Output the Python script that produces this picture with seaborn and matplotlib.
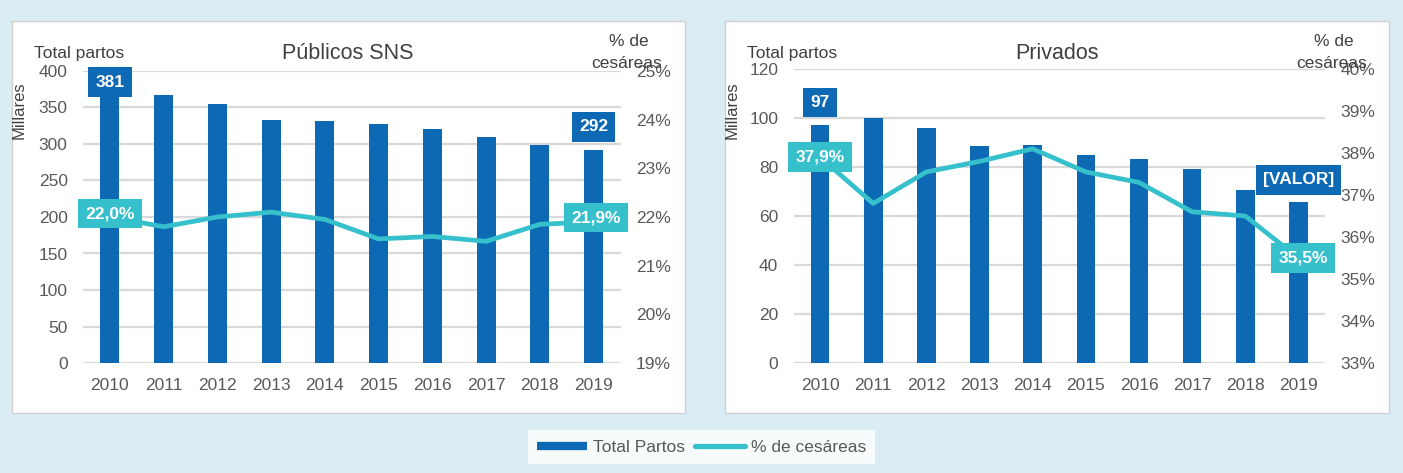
import numpy as np
import pandas as pd
import seaborn as sns
import matplotlib.pyplot as plt
from matplotlib.patches import Rectangle
from matplotlib.lines import Line2D
from matplotlib.ticker import PercentFormatter

plt.rcParams['font.family'] = ['Liberation Sans', 'DejaVu Sans']

# dados
anos = ['2010', '2011', '2012', '2013', '2014', '2015', '2016', '2017', '2018', '2019']
sns_partos = [381, 367, 355, 333, 332, 328, 321, 309, 299, 292]
sns_cesareas = [22.0, 21.8, 22.0, 22.1, 21.95, 21.55, 21.6, 21.5, 21.85, 21.9]
priv_partos = [97.3, 99.9, 95.9, 88.4, 89.1, 85.1, 83.4, 79.3, 70.6, 65.7]
priv_cesareas = [37.9, 36.8, 37.55, 37.8, 38.1, 37.55, 37.3, 36.6, 36.5, 35.5]

AZUL = '#0E69B4'
TURQ = '#35C0CC'
FUNDO = '#DAEDF5'
CINZA = '#595959'
GRELHA = '#D9D9D9'

W, H = 1403, 473
fig = plt.figure(figsize=(W / 100, H / 100), dpi=100)
fig.patch.set_facecolor(FUNDO)


def px(x, y):
    return x / W, 1 - y / H


# paineis brancos
for x0, x1 in [(12, 685), (725, 1389)]:
    fig.patches.append(Rectangle(px(x0, 413), (x1 - x0) / W, (413 - 21) / H,
                                 transform=fig.transFigure, facecolor='white',
                                 edgecolor='#D0D0D0', lw=1, zorder=-10))


def painel(rect, partos, cesareas, ymax, ylim2, titulo, bar_lbls, line_lbls, xs):
    df = pd.DataFrame({'ano': anos, 'partos': partos, 'ces': cesareas})
    ax = fig.add_axes(rect)
    ax.set_facecolor('none')
    sns.barplot(data=df, x='ano', y='partos', color=AZUL, saturation=1,
                width=0.35, ax=ax)
    ax.set_ylim(0, ymax)
    ax.set_xlim(-0.5, len(anos) - 0.5)
    ax.yaxis.grid(True, color=GRELHA, lw=1.6)
    ax.set_axisbelow(True)
    for s in ax.spines.values():
        s.set_visible(False)
    ax.tick_params(length=0, labelsize=12.5, labelcolor=CINZA, pad=11)
    ax.set_xlabel('')
    ax.set_ylabel('')

    ax2 = ax.twinx()
    sns.pointplot(data=df, x='ano', y='ces', color=TURQ, markers='',
                  linewidth=3.4, errorbar=None, ax=ax2)
    ax2.set_ylim(*ylim2)
    ax2.set_yticks(range(ylim2[0], ylim2[1] + 1))
    ax2.yaxis.set_major_formatter(PercentFormatter(decimals=0))
    ax2.set_xlim(-0.5, len(anos) - 0.5)
    for s in ax2.spines.values():
        s.set_visible(False)
    ax2.tick_params(length=0, labelsize=12.5, labelcolor=CINZA, pad=11)
    ax2.set_xlabel('')
    ax2.set_ylabel('')

    for i, txt, dy in bar_lbls:
        ax.annotate(txt, xy=(i, partos[i]), xytext=(0, dy), textcoords='offset points',
                    ha='center', va='center', color='white', fontsize=12.5,
                    fontweight='bold',
                    bbox=dict(boxstyle='square,pad=0.42', fc=AZUL, ec='none'))
    for i, dx, dy in line_lbls:
        txt = f'{cesareas[i]:.1f}'.replace('.', ',') + '%'
        ax2.annotate(txt, xy=(i, cesareas[i]), xytext=(dx, dy), textcoords='offset points',
                     ha='center', va='center', color='white', fontsize=12.5,
                     fontweight='bold',
                     bbox=dict(boxstyle='square,pad=0.42', fc=TURQ, ec='none'))

    # textos
    fig.text(*px(xs[0], 53), 'Total partos', ha='center', va='center',
             fontsize=12.5, color='#404040')
    fig.text(*px(xs[1], 53), titulo, ha='center', va='center',
             fontsize=15.5, color='#404040')
    fig.text(*px(xs[2], 42), '% de', ha='center', va='center',
             fontsize=12.5, color='#404040')
    fig.text(*px(xs[2] - 2, 63), 'cesáreas', ha='center', va='center',
             fontsize=12.5, color='#404040')
    fig.text(*px(xs[3], 110), 'Millares', ha='center', va='center',
             rotation=90, fontsize=12, color='#404040')


def rect_px(x0, x1, ytop, ybot):
    return [x0 / W, 1 - ybot / H, (x1 - x0) / W, (ybot - ytop) / H]


painel(rect_px(83, 620.5, 71, 363), sns_partos, sns_cesareas, 400, (19, 25),
       'Públicos SNS',
       [(0, '381', 2), (9, '292', 16.5)],
       [(0, 0, 2.4), (9, 2, 3)],
       (79, 348, 629, 19))

painel(rect_px(793.5, 1325, 69, 363), priv_partos, priv_cesareas, 120, (33, 40),
       'Privados',
       [(0, '97', 16), (9, '[VALOR]', 16)],
       [(0, 0, 0), (9, 3.6, 0)],
       (792, 1057, 1334, 732))

# legenda
handles = [Line2D([], [], color=AZUL, lw=6, solid_capstyle='butt'),
           Line2D([], [], color=TURQ, lw=3.8, solid_capstyle='round')]
leg = fig.legend(handles, ['Total Partos', '% de cesáreas'], loc='center',
                 bbox_to_anchor=(0.5, 1 - 447 / H), ncol=2, frameon=True,
                 fancybox=False, facecolor='white', edgecolor='white',
                 fontsize=12.5, handlelength=2.9, handletextpad=0.3,
                 columnspacing=0.6, borderpad=0.55)
for t in leg.get_texts():
    t.set_color(CINZA)
leg.get_frame().set_linewidth(0)

fig.savefig('out.png', dpi=100, facecolor=FUNDO)
